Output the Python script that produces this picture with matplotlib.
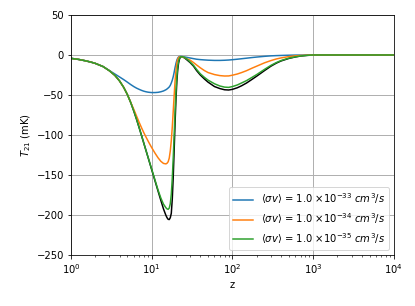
import matplotlib
matplotlib.use("Agg")
import matplotlib.pyplot as plt

z = [1, 1.25, 1.5, 1.75, 2, 2.5, 3, 3.5, 4, 4.5,
     5, 5.5, 6, 6.5, 7, 7.5, 8, 8.5, 9, 9.5,
     10, 11, 12, 13, 14, 15, 15.5, 16, 16.5, 17,
     17.5, 18, 18.5, 19, 19.5, 20, 20.5, 21, 21.5, 22,
     22.5, 23, 24, 25, 26, 28, 30, 33, 36, 40,
     45, 50, 60, 70, 80, 90, 100, 115, 130, 150,
     175, 200, 250, 300, 350, 400, 500, 600, 700, 850,
     1000, 1500, 10000]

T_black = [-4.2, -5.6, -7.2, -8.8, -10.5, -14.5, -19.8, -25.5, -32.5, -40.5,
           -49.5, -59.5, -70, -80.5, -91, -101, -110.5, -119.4, -127.8, -135.8,
           -143.4, -157.5, -170.3, -182, -192.5, -200.5, -203.5, -205.5, -205.8, -203.5,
           -198, -180, -152, -118, -84, -55, -33, -19, -10.5, -5.8,
           -3.3, -2.4, -2.2, -3.2, -4.3, -7, -9.6, -14, -19.5, -25,
           -30, -34, -39.5, -42, -43.5, -43.8, -43, -41, -38.5, -35,
           -30.5, -26.5, -19.5, -14, -10.2, -7.5, -4.3, -2.5, -1.3, -0.5,
           -0.1, 0, 0]

T_blue = [-4.2, -5.6, -7.2, -8.8, -10.5, -14.5, -19.5, -23.8, -27.5, -30.8,
          -34, -37, -39.5, -41.5, -43, -44.3, -45.3, -46, -46.5, -46.8,
          -47, -47, -46.7, -46, -45, -43.5, -42.5, -41.3, -40, -38,
          -35, -31.5, -27, -21.5, -15.5, -10.5, -6.5, -4, -2.6, -2,
          -1.8, -1.8, -2, -2.3, -2.6, -3.2, -3.8, -4.6, -5.3, -5.8,
          -6.2, -6.5, -6.8, -6.8, -6.6, -6.3, -5.9, -5.3, -4.7, -4,
          -3.2, -2.6, -1.7, -1.1, -0.8, -0.6, -0.3, -0.15, -0.1, 0,
          0, 0, 0]

T_orange = [-4.2, -5.6, -7.2, -8.8, -10.5, -14.5, -19.8, -25.5, -32.5, -40.5,
            -49.5, -59.3, -68, -76.5, -84.3, -91.2, -97.3, -102.6, -107.4, -111.8,
            -115.8, -122.8, -128.6, -133, -135.6, -136.2, -135.4, -133.5, -129, -120,
            -107, -90, -70, -50, -32, -19, -10, -5.5, -3.3, -2.4,
            -2.1, -2.1, -2.4, -3, -3.7, -5.2, -6.5, -9.5, -12.5, -16,
            -19.5, -22, -24.5, -25.8, -26.3, -26.2, -25.3, -23.8, -22, -19.6,
            -16.5, -14, -9.8, -7, -5, -3.7, -2, -1.1, -0.6, -0.2,
            0, 0, 0]

T_green = [-4.2, -5.6, -7.2, -8.8, -10.5, -14.5, -19.8, -25.5, -32.5, -40.5,
           -49.5, -59.5, -70, -80.5, -91, -101, -110.5, -119.4, -127.6, -135.4,
           -142.8, -156.5, -169, -179, -186.5, -191, -192.5, -193, -191.5, -186,
           -174, -154, -128, -99, -70, -45, -27, -15, -8, -4.5,
           -2.8, -2.2, -2.2, -2.8, -3.5, -6, -8.8, -13, -18, -23.5,
           -28, -31.5, -36, -38.8, -40.2, -40.5, -39.5, -37.5, -35, -32,
           -28, -24.5, -18, -13, -9.5, -7, -4, -2.3, -1.2, -0.4,
           0, 0, 0]

labels = [r'$\langle\sigma v\rangle$ = 1.0 $\times 10^{-33}$ $cm^3/s$',
          r'$\langle\sigma v\rangle$ = 1.0 $\times 10^{-34}$ $cm^3/s$',
          r'$\langle\sigma v\rangle$ = 1.0 $\times 10^{-35}$ $cm^3/s$']

fig = plt.figure(figsize=(415/72, 306/72), dpi=72)
ax = fig.add_axes([0.171, 0.167, 0.778, 0.784])

ax.plot(z, T_black, color='black', lw=1.5)
ax.plot(z, T_blue, color='C0', lw=1.5, label=labels[0])
ax.plot(z, T_orange, color='C1', lw=1.5, label=labels[1])
ax.plot(z, T_green, color='C2', lw=1.5, label=labels[2])

ax.set_xscale('log')
ax.set_xlim(1, 1e4)
ax.set_ylim(-250, 50)
ax.set_yticks([50, 0, -50, -100, -150, -200, -250])
ax.grid(True, which='major', color='#b0b0b0', lw=1.0)
ax.set_xlabel('z')
ax.set_ylabel(r'$T_{21}$ (mK)')
ax.legend(loc='lower right')

fig.savefig('out.png', dpi=72)
